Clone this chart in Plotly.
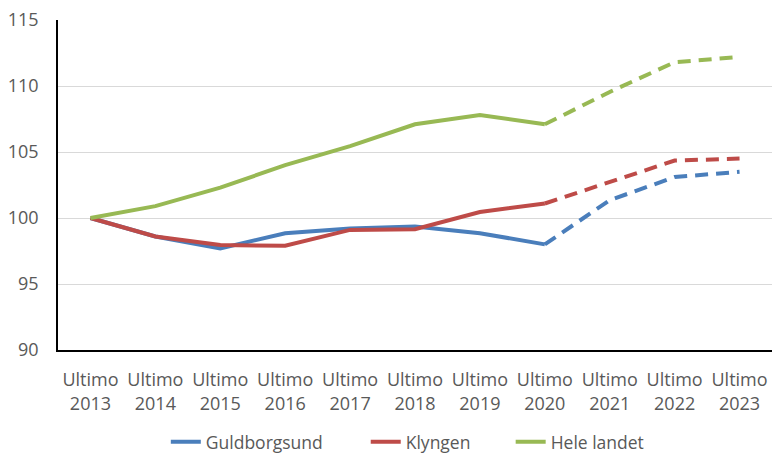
import plotly.graph_objects as go

years = ["2013", "2014", "2015", "2016", "2017", "2018", "2019", "2020", "2021", "2022", "2023"]
x_labels = ["Ultimo<br>" + y for y in years]
guldborgsund = [100.0, 98.6, 97.7, 98.85, 99.2, 99.35, 98.85, 98.0, 101.35, 103.1, 103.5]
klyngen = [100.0, 98.6, 97.95, 97.9, 99.1, 99.15, 100.45, 101.1, 102.7, 104.35, 104.5]
hele_landet = [100.0, 100.9, 102.3, 104.0, 105.45, 107.1, 107.8, 107.1, 109.55, 111.8, 112.2]
forecast_start = "2020"

series = [
    ("Guldborgsund", guldborgsund, "#4A7EBB"),
    ("Klyngen", klyngen, "#BE4B48"),
    ("Hele landet", hele_landet, "#98B954"),
]

# legend anchors (paper x) for the three legend entries
legend_names = ["legend", "legend2", "legend3"]
legend_x = [0.151, 0.431, 0.634]

split = years.index(forecast_start)
fig = go.Figure()
for (name, vals, color), lg in zip(series, legend_names):
    fig.add_trace(go.Scatter(
        x=x_labels[:split + 1], y=vals[:split + 1], mode="lines", name=name,
        line=dict(color=color, width=4), legendgroup=name, showlegend=True, legend=lg))
for name, vals, color in series:
    fig.add_trace(go.Scatter(
        x=x_labels[split:], y=vals[split:], mode="lines", name=name,
        line=dict(color=color, width=4, dash="13px,8px"), legendgroup=name, showlegend=False))

font_family = "Open Sans, Liberation Sans, Arial, sans-serif"
legend_common = dict(orientation="h", xanchor="left", y=-0.224, yanchor="top",
                     font=dict(size=17.5, color="#595959"), bgcolor="rgba(0,0,0,0)")
fig.update_layout(
    width=772, height=454,
    margin=dict(l=58, r=0, t=20, b=104, autoexpand=False),
    paper_bgcolor="white", plot_bgcolor="white",
    font=dict(family=font_family, size=18, color="#595959"),
    showlegend=True,
    legend=dict(x=legend_x[0], **legend_common),
    legend2=dict(x=legend_x[1], **legend_common),
    legend3=dict(x=legend_x[2], **legend_common),
    xaxis=dict(type="category", categoryorder="array", categoryarray=x_labels,
               range=[-0.5, len(years) - 0.5], automargin=False,
               showline=True, linecolor="#000000", linewidth=1.5,
               showgrid=False, ticks="", ticklabelstandoff=13,
               tickfont=dict(size=18, color="#595959")),
    yaxis=dict(range=[90, 115], dtick=5, tick0=90, automargin=False,
               showline=True, linecolor="#000000", linewidth=1.5,
               showgrid=True, gridcolor="#D9D9D9", gridwidth=1,
               zeroline=False, ticks="", ticklabelstandoff=14,
               tickfont=dict(size=18, color="#595959")),
)

fig.write_html("out.html", config={"displayModeBar": False},
               post_script="document.body.style.margin='0';")
